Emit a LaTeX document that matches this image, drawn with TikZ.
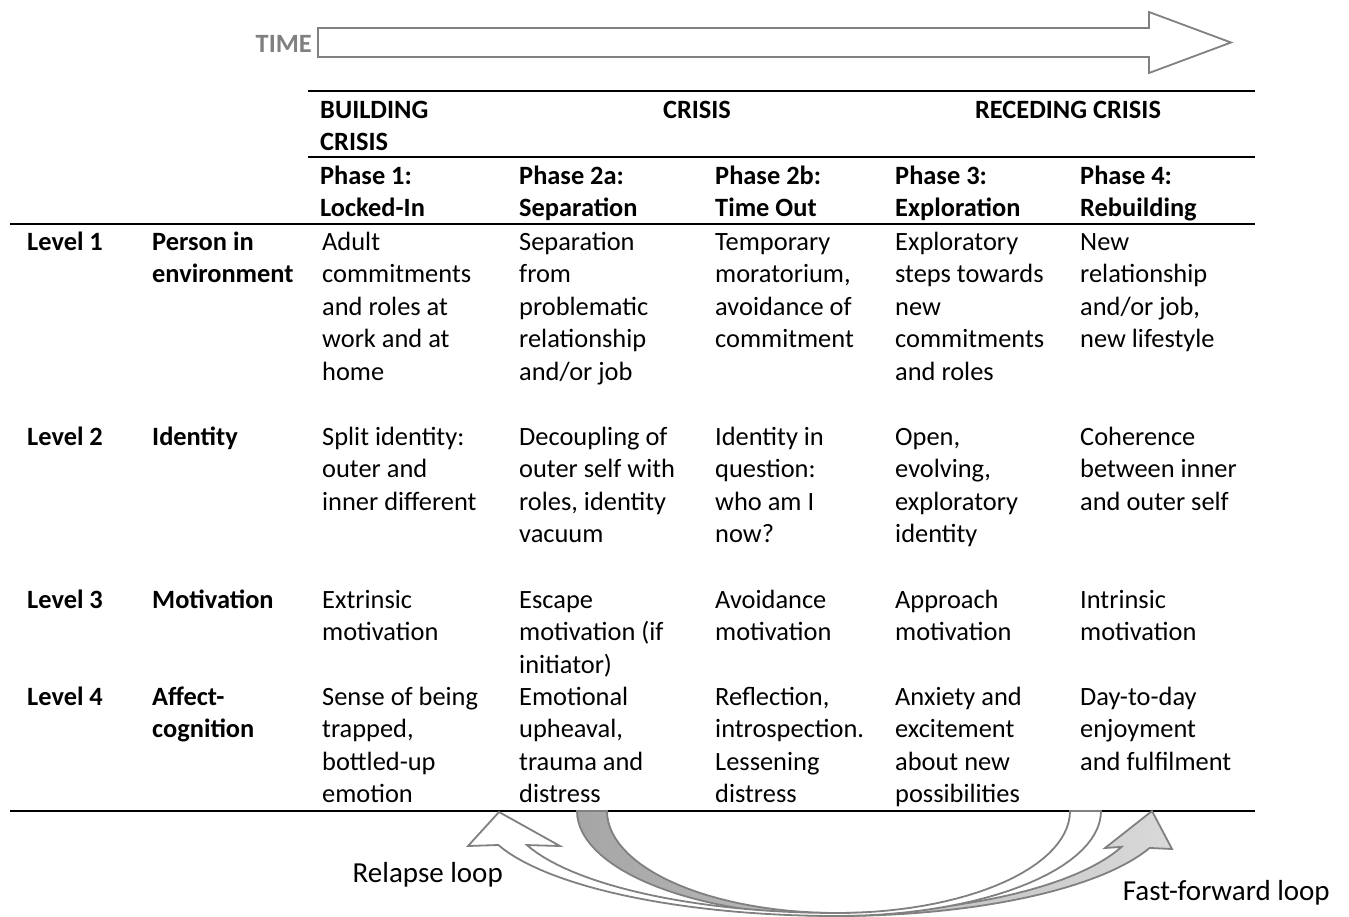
\documentclass[tikz,border=0pt]{standalone}
\usepackage{fontspec}
\setmainfont{Carlito}
\usepackage{tikz}

\begin{document}
\begin{tikzpicture}[x=1pt,y=-1pt,
	every node/.style={inner sep=0pt,font=\fontsize{26.4}{32.5}\selectfont},
	cell/.style={anchor=north west,align=left},
	hd/.style={cell,font=\fontsize{26.4}{32.5}\selectfont\bfseries},
	looplabel/.style={anchor=east,font=\fontsize{29}{35}\selectfont},
	hrule/.style={line width=2pt},
	loopband/.style={draw=gray,line width=1.8pt,line join=miter}
	]
	\useasboundingbox (0,0) rectangle (1349,917);
	% time arrow
	\node[font=\fontsize{26.4}{32.5}\selectfont\bfseries,text=black!50,anchor=east] (time) at (312,44) {TIME};
	\draw[gray,line width=1.8pt] (318,28) -- (1149,28) -- (1149,12) -- (1231,42.5) -- (1149,73) -- (1149,57) -- (318,57) -- cycle;
	% rules
	\draw[hrule] (308,91) -- (1255,91);
	\draw[hrule] (308,157) -- (1255,157);
	\draw[hrule] (10,224) -- (1255,224);
	\draw[hrule] (10,811) -- (1255,811);
	% stages
	\node[hd] (building) at (320,95.25) {\strut BUILDING\\CRISIS};
	\node[hd,anchor=north] (crisis) at (697,95.25) {\strut CRISIS};
	\node[hd,anchor=north] (receding) at (1068,95.25) {\strut RECEDING CRISIS};
	% phases
	\node[hd] (ph1) at (320,161.25) {\strut Phase 1:\\Locked-In};
	\node[hd] (ph2a) at (519,161.25) {\strut Phase 2a:\\Separation};
	\node[hd] (ph2b) at (715,161.25) {\strut Phase 2b:\\Time Out};
	\node[hd] (ph3) at (895,161.25) {\strut Phase 3:\\Exploration};
	\node[hd] (ph4) at (1080,161.25) {\strut Phase 4:\\Rebuilding};
	% level 1
	\node[hd] (lv1) at (27,227.25) {\strut Level 1};
	\node[hd] (nm1) at (152,227.25) {\strut Person in\\environment};
	\node[cell] (a11) at (322,227.25) {\strut Adult\\commitments\\and roles at\\work and at\\home};
	\node[cell] (a12) at (519,227.25) {\strut Separation\\from\\problematic\\relationship\\and/or job};
	\node[cell] (a13) at (715,227.25) {\strut Temporary\\moratorium,\\avoidance of\\commitment};
	\node[cell] (a14) at (895,227.25) {\strut Exploratory\\steps towards\\new\\commitments\\and roles};
	\node[cell] (a15) at (1080,227.25) {\strut New\\relationship\\and/or job,\\new lifestyle};
	% level 2
	\node[hd] (lv2) at (27,422.25) {\strut Level 2};
	\node[hd] (nm2) at (152,422.25) {\strut Identity};
	\node[cell] (a21) at (322,422.25) {\strut Split identity:\\outer and\\inner different};
	\node[cell] (a22) at (519,422.25) {\strut Decoupling of\\outer self with\\roles, identity\\vacuum};
	\node[cell] (a23) at (715,422.25) {\strut Identity in\\question:\\who am I\\now?};
	\node[cell] (a24) at (895,422.25) {\strut Open,\\evolving,\\exploratory\\identity};
	\node[cell] (a25) at (1080,422.25) {\strut Coherence\\between inner\\and outer self};
	% level 3
	\node[hd] (lv3) at (27,585.25) {\strut Level 3};
	\node[hd] (nm3) at (152,585.25) {\strut Motivation};
	\node[cell] (a31) at (322,585.25) {\strut Extrinsic\\motivation};
	\node[cell] (a32) at (519,585.25) {\strut Escape\\motivation (if\\initiator)};
	\node[cell] (a33) at (715,585.25) {\strut Avoidance\\motivation};
	\node[cell] (a34) at (895,585.25) {\strut Approach\\motivation};
	\node[cell] (a35) at (1080,585.25) {\strut Intrinsic\\motivation};
	% level 4
	\node[hd] (lv4) at (27,682.25) {\strut Level 4};
	\node[hd] (nm4) at (152,682.25) {\strut Affect-\\cognition};
	\node[cell] (a41) at (322,682.25) {\strut Sense of being\\trapped,\\bottled-up\\emotion};
	\node[cell] (a42) at (519,682.25) {\strut Emotional\\upheaval,\\trauma and\\distress};
	\node[cell] (a43) at (715,682.25) {\strut Reflection,\\introspection.\\Lessening\\distress};
	\node[cell] (a44) at (895,682.25) {\strut Anxiety and\\excitement\\about new\\possibilities};
	\node[cell] (a45) at (1080,682.25) {\strut Day-to-day\\enjoyment\\and fulfilment};
	% fast-forward loop
	\draw[loopband,left color=gray!70,right color=gray!30] (577,811)
		-- plot[domain=180:90,samples=30] ({837+260*cos(\x)},{811+105*sin(\x)})
		-- plot[domain=90:20.6,samples=30] ({837+334*cos(\x)},{811+105*sin(\x)})
		-- (1172,849) -- (1152,811) -- (1105,848)
		-- plot[domain=20.6:90,samples=30] ({837+304*cos(\x)},{811+102*sin(\x)})
		-- plot[domain=90:180,samples=30] ({837+230*cos(\x)},{811+102*sin(\x)})
		-- cycle;
	% relapse loop
	\draw[loopband,fill=white] (1070,811)
		-- plot[domain=0:90,samples=30] ({837+233*cos(\x)},{811+102*sin(\x)})
		-- plot[domain=90:160.5,samples=30] ({837+329*cos(\x)},{811+102*sin(\x)})
		-- (560,846) -- (499,812) -- (468,846)
		-- plot[domain=161.1:90,samples=30] ({837+358*cos(\x)},{811+105*sin(\x)})
		-- plot[domain=90:0,samples=30] ({837+264*cos(\x)},{811+105*sin(\x)})
		-- cycle;
	\node[looplabel] (relapse) at (503,875) {Relapse loop};
	\node[looplabel] (fastfwd) at (1330,893) {Fast-forward loop};
\end{tikzpicture}
\end{document}
